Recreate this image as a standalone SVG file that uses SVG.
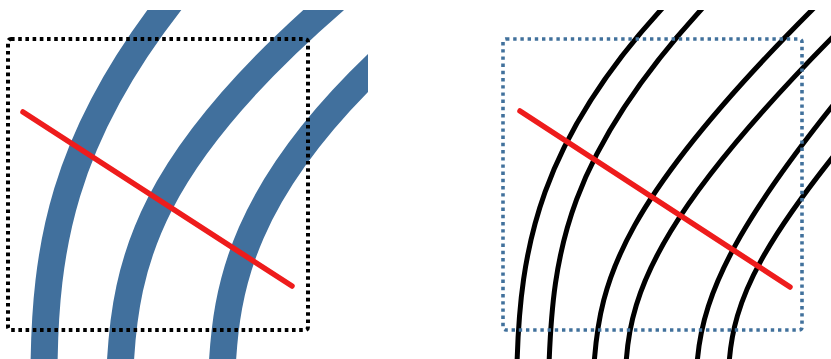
<svg xmlns="http://www.w3.org/2000/svg" width="831" height="359" viewBox="0 0 831 359">
<style>
.band{fill:none;stroke:#41709d;stroke-width:27}
.wire{fill:none;stroke:#000;stroke-width:5}
.cut{fill:none;stroke:#ee1c1c;stroke-width:5.5;stroke-linecap:round}
.boxL{fill:none;stroke:#000;stroke-width:4;stroke-dasharray:3.6 3.6}
.boxR{fill:none;stroke:#41719c;stroke-width:3.6;stroke-dasharray:3.4 3.8}
</style>
<defs>
<clipPath id="clipL"><rect x="0" y="10" width="368" height="349"/></clipPath>
<clipPath id="clipR"><rect x="480" y="10" width="351" height="349"/></clipPath>
</defs>
<rect width="831" height="359" fill="#fff"/>
<g id="left-panel">
<g clip-path="url(#clipL)">
<path class="band" d="M44 370 C45 250 62 140 172 0"/>
<path class="band" d="M120 370 C125 260 150 160 335 0"/>
<path class="band" d="M222 370 C226 290 240 190 390 52"/>
</g>
<rect class="boxL" x="8" y="39" width="300" height="291" rx="3"/>
<line class="cut" x1="23" y1="112" x2="292" y2="286"/>
</g>
<g id="right-panel">
<g clip-path="url(#clipR)">
<path class="wire" d="M517 365 C520 250 538 140 670 0"/>
<path class="wire" d="M549 365 C553 255 565 155 710 0"/>
<path class="wire" d="M594 365 C600 280 620 200 822 0"/>
<path class="wire" d="M626 365 C630 290 660 205 870 0"/>
<path class="wire" d="M697 365 C702 290 740 210 900 25"/>
<path class="wire" d="M729 365 C733 300 760 240 880 100"/>
</g>
<rect class="boxR" x="503" y="39" width="299" height="291" rx="3"/>
<line class="cut" x1="520" y1="111" x2="790" y2="287"/>
</g>
</svg>
